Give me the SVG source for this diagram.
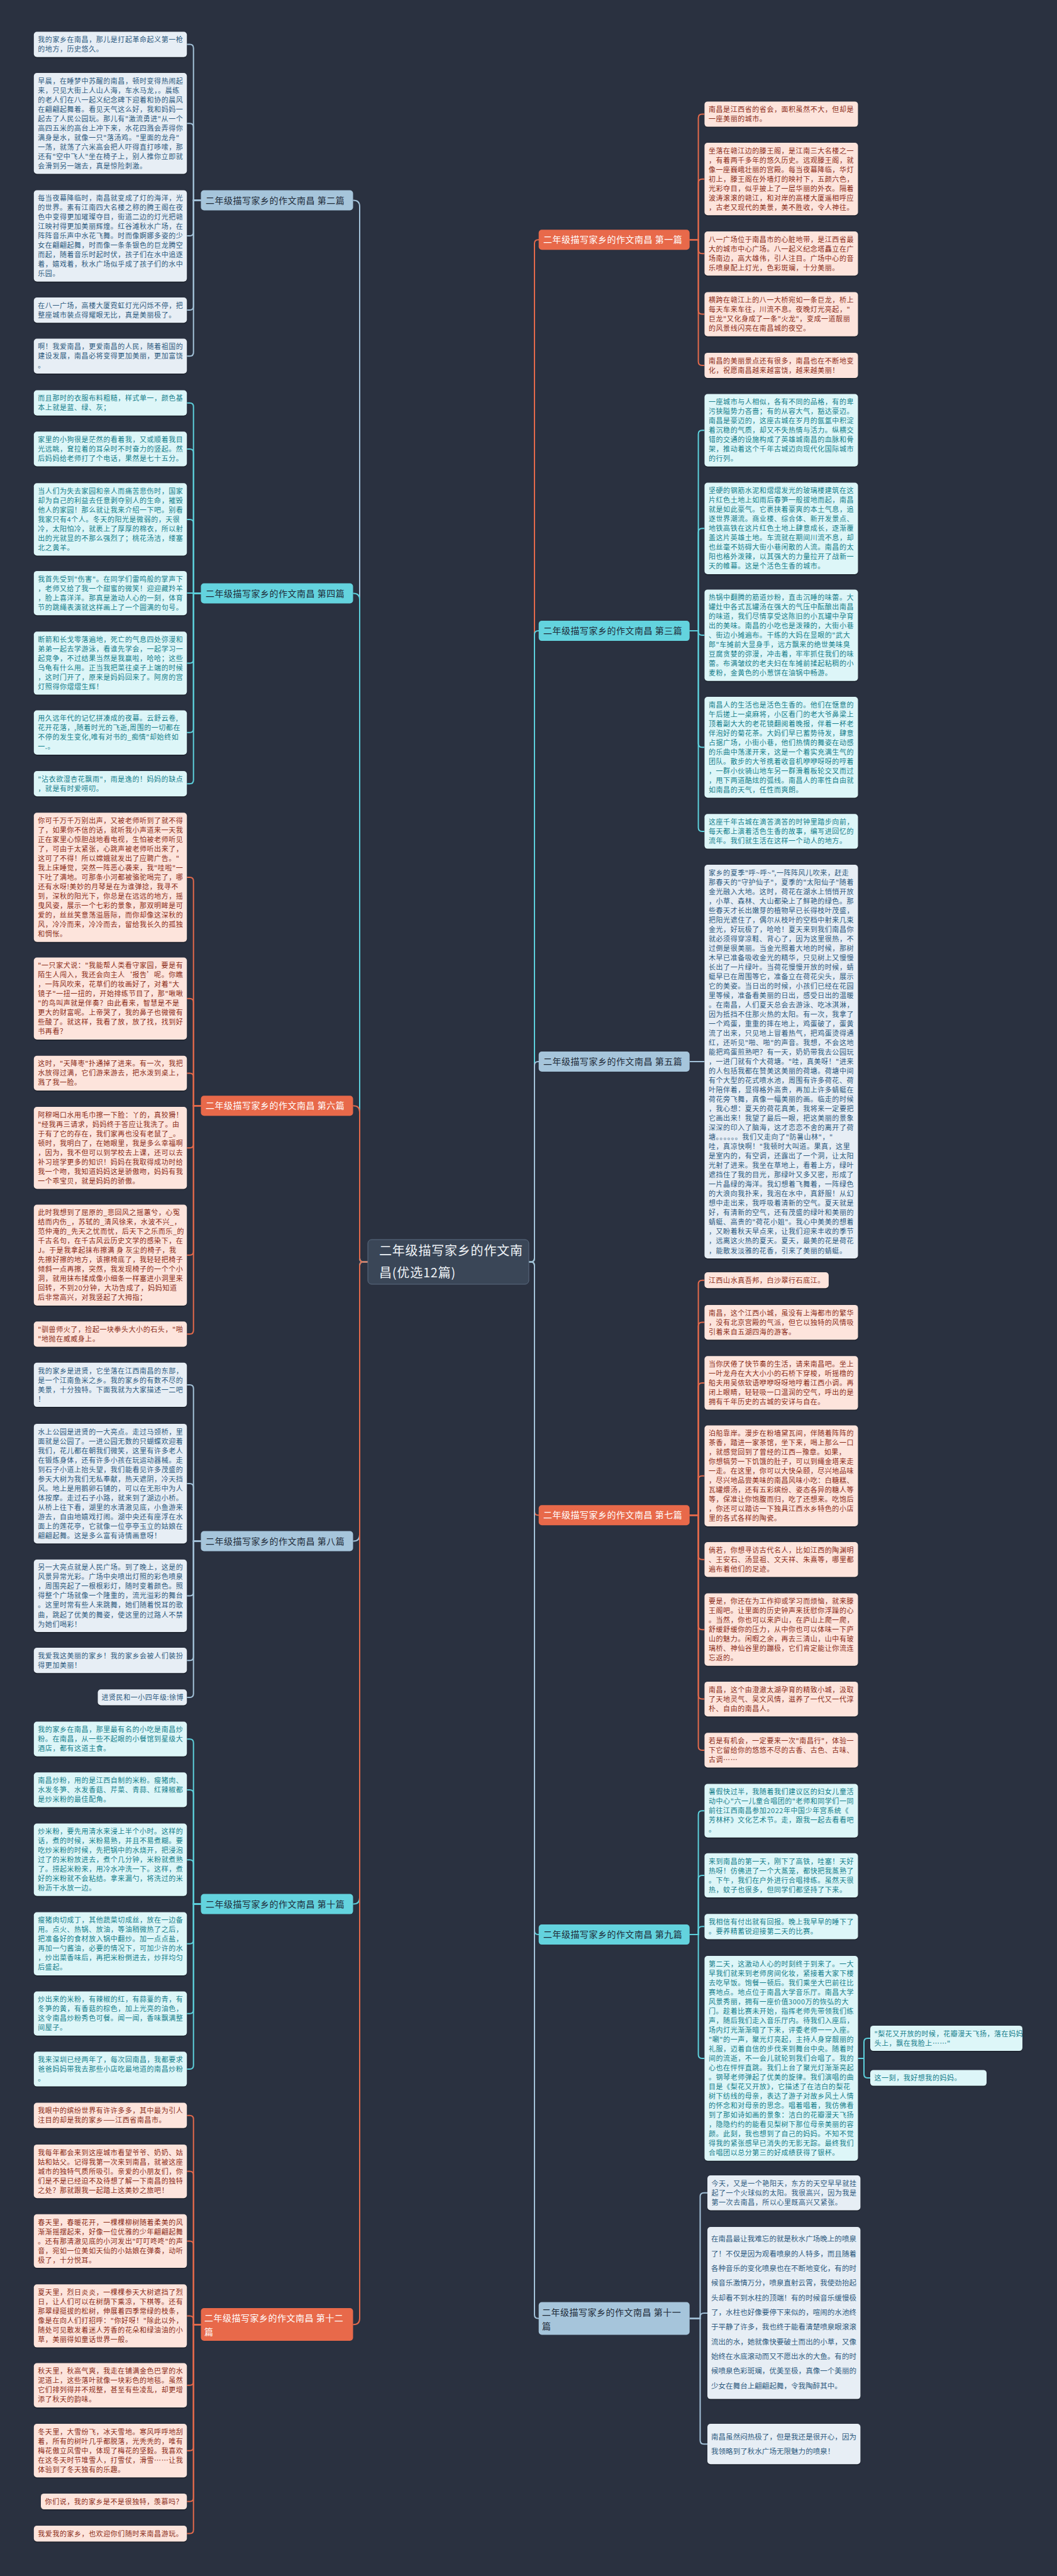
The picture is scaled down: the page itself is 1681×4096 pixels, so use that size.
<svg xmlns="http://www.w3.org/2000/svg" width="1681" height="4096" viewBox="0 0 1681 4096">
<style>
text{font-family:"Noto Sans CJK SC","Noto Sans",sans-serif;}
.t{font-size:11px;letter-spacing:0.55px;}
.lo{fill:#fde4dc;}.lc{fill:#ddf6f8;}.lg{fill:#e7eef5;}
.sh{fill:#1b212b;}
.to{fill:#8c2d18;}.tc{fill:#15808c;}.tg{fill:#2e5b7f;}
.co,.cc,.cg{fill:none;stroke-width:2;}
.co{stroke:#e2694b;}.cc{stroke:#5ccfdb;}.cg{stroke:#a3c2d9;}
.bo{fill:#e8694a;}.bc{fill:#63d3de;}.bgb{fill:#a6c5db;}
.bt{font-size:14px;letter-spacing:0.5px;fill:#1e2a38;}
.bto{font-size:14px;letter-spacing:0.5px;fill:#ffffff;}
</style>
<rect width="1681" height="4096" fill="#2a3140"/>

<g id="connectors">
<path class="cg" d="M585,2006.5 H578 Q572,2006.5 572,2000.5 V328.5 Q572,318.5 562,318.5 H561.5"/>
<path class="cc" d="M585,2006.5 H578 Q572,2006.5 572,2000.5 V953.5 Q572,943.5 562,943.5 H561.5"/>
<path class="co" d="M585,2006.5 H578 Q572,2006.5 572,2000.5 V1768.2 Q572,1758.2 562,1758.2 H561.5"/>
<path class="cg" d="M585,2006.5 H578 Q572,2006.5 572,2012.5 V2440.5 Q572,2450.5 562,2450.5 H561.5"/>
<path class="cc" d="M585,2006.5 H578 Q572,2006.5 572,2012.5 V3017.6 Q572,3027.6 562,3027.6 H561.5"/>
<path class="co" d="M585,2006.5 H578 Q572,2006.5 572,2012.5 V3686.2 Q572,3696.2 562,3696.2 H561.5"/>
<path class="co" d="M841,2006.5 H844 Q850,2006.5 850,2000.5 V387.3 Q850,381.3 856,381.3 H857"/>
<path class="cc" d="M841,2006.5 H844 Q850,2006.5 850,2000.5 V1009.1 Q850,1003.1 856,1003.1 H857"/>
<path class="cg" d="M841,2006.5 H844 Q850,2006.5 850,2000.5 V1694 Q850,1688 856,1688 H857"/>
<path class="co" d="M841,2006.5 H844 Q850,2006.5 850,2012.5 V2403.3 Q850,2409.3 856,2409.3 H857"/>
<path class="cc" d="M841,2006.5 H844 Q850,2006.5 850,2012.5 V3070.1 Q850,3076.1 856,3076.1 H857"/>
<path class="cg" d="M841,2006.5 H844 Q850,2006.5 850,2012.5 V3680.5 Q850,3686.5 856,3686.5 H857"/>

<path class="cg" d="M319.5,318.5 H307.7 V76.6 Q307.7,70.6 301.7,70.6 H297.2"/>
<path class="cg" d="M319.5,318.5 H307.7 V202.3 Q307.7,196.3 301.7,196.3 H297.2"/>
<path class="cg" d="M319.5,318.5 H307.7 V369.1 Q307.7,375.1 301.7,375.1 H297.2"/>
<path class="cg" d="M319.5,318.5 H307.7 V487.1 Q307.7,493.1 301.7,493.1 H297.2"/>
<path class="cg" d="M319.5,318.5 H307.7 V560.3 Q307.7,566.3 301.7,566.3 H297.2"/>
<path class="cc" d="M319.5,943.5 H307.7 V646.7 Q307.7,640.7 301.7,640.7 H297.2"/>
<path class="cc" d="M319.5,943.5 H307.7 V719.9 Q307.7,713.9 301.7,713.9 H297.2"/>
<path class="cc" d="M319.5,943.5 H307.7 V831.9 Q307.7,825.9 301.7,825.9 H297.2"/>
<path class="cc" d="M319.5,943.5 H307.7 V943.1 H297.2"/>
<path class="cc" d="M319.5,943.5 H307.7 V1048.5 Q307.7,1054.5 301.7,1054.5 H297.2"/>
<path class="cc" d="M319.5,943.5 H307.7 V1158.8 Q307.7,1164.8 301.7,1164.8 H297.2"/>
<path class="cc" d="M319.5,943.5 H307.7 V1240.2 Q307.7,1246.2 301.7,1246.2 H297.2"/>
<path class="co" d="M319.5,1758.2 H307.7 V1401.1 Q307.7,1395.1 301.7,1395.1 H297.2"/>
<path class="co" d="M319.5,1758.2 H307.7 V1593.8 Q307.7,1587.8 301.7,1587.8 H297.2"/>
<path class="co" d="M319.5,1758.2 H307.7 V1712.4 Q307.7,1706.4 301.7,1706.4 H297.2"/>
<path class="co" d="M319.5,1758.2 H307.7 V1819.2 Q307.7,1825.2 301.7,1825.2 H297.2"/>
<path class="co" d="M319.5,1758.2 H307.7 V1989.7 Q307.7,1995.7 301.7,1995.7 H297.2"/>
<path class="co" d="M319.5,1758.2 H307.7 V2115.3 Q307.7,2121.3 301.7,2121.3 H297.2"/>
<path class="cg" d="M319.5,2450.5 H307.7 V2208 Q307.7,2202 301.7,2202 H297.2"/>
<path class="cg" d="M319.5,2450.5 H307.7 V2365.1 Q307.7,2359.1 301.7,2359.1 H297.2"/>
<path class="cg" d="M319.5,2450.5 H307.7 V2531.4 Q307.7,2537.4 301.7,2537.4 H297.2"/>
<path class="cg" d="M319.5,2450.5 H307.7 V2634.2 Q307.7,2640.2 301.7,2640.2 H297.2"/>
<path class="cg" d="M319.5,2450.5 H307.7 V2692.9 Q307.7,2698.9 301.7,2698.9 H297.2"/>
<path class="cc" d="M319.5,3027.6 H307.7 V2771.2 Q307.7,2765.2 301.7,2765.2 H297.2"/>
<path class="cc" d="M319.5,3027.6 H307.7 V2851.9 Q307.7,2845.9 301.7,2845.9 H297.2"/>
<path class="cc" d="M319.5,3027.6 H307.7 V2963.2 Q307.7,2957.2 301.7,2957.2 H297.2"/>
<path class="cc" d="M319.5,3027.6 H307.7 V3084.8 Q307.7,3090.8 301.7,3090.8 H297.2"/>
<path class="cc" d="M319.5,3027.6 H307.7 V3195.7 Q307.7,3201.7 301.7,3201.7 H297.2"/>
<path class="cc" d="M319.5,3027.6 H307.7 V3284 Q307.7,3290 301.7,3290 H297.2"/>
<path class="co" d="M319.5,3696.2 H307.7 V3369.7 Q307.7,3363.7 301.7,3363.7 H297.2"/>
<path class="co" d="M319.5,3696.2 H307.7 V3458.6 Q307.7,3452.6 301.7,3452.6 H297.2"/>
<path class="co" d="M319.5,3696.2 H307.7 V3569.5 Q307.7,3563.5 301.7,3563.5 H297.2"/>
<path class="co" d="M319.5,3696.2 H307.7 V3688.5 Q307.7,3682.5 301.7,3682.5 H297.2"/>
<path class="co" d="M319.5,3696.2 H307.7 V3786.8 Q307.7,3792.8 301.7,3792.8 H297.2"/>
<path class="co" d="M319.5,3696.2 H307.7 V3890.7 Q307.7,3896.7 301.7,3896.7 H297.2"/>
<path class="co" d="M319.5,3696.2 H307.7 V3971.5 Q307.7,3977.5 301.7,3977.5 H297.2"/>
<path class="co" d="M319.5,3696.2 H307.7 V4022.6 Q307.7,4028.6 301.7,4028.6 H297.2"/>

<path class="co" d="M1096.8,381.3 H1110.6 V187.5 Q1110.6,181.5 1116.6,181.5 H1120.4"/>
<path class="co" d="M1096.8,381.3 H1110.6 V290.7 Q1110.6,284.7 1116.6,284.7 H1120.4"/>
<path class="co" d="M1096.8,381.3 H1110.6 V397.2 Q1110.6,403.2 1116.6,403.2 H1120.4"/>
<path class="co" d="M1096.8,381.3 H1110.6 V493.6 Q1110.6,499.6 1116.6,499.6 H1120.4"/>
<path class="co" d="M1096.8,381.3 H1110.6 V575 Q1110.6,581 1116.6,581 H1120.4"/>
<path class="cc" d="M1096.8,1003.1 H1110.6 V690.2 Q1110.6,684.2 1116.6,684.2 H1120.4"/>
<path class="cc" d="M1096.8,1003.1 H1110.6 V846.2 Q1110.6,840.2 1116.6,840.2 H1120.4"/>
<path class="cc" d="M1096.8,1003.1 H1110.6 V1004.1 Q1110.6,1010.1 1116.6,1010.1 H1120.4"/>
<path class="cc" d="M1096.8,1003.1 H1110.6 V1182.2 Q1110.6,1188.2 1116.6,1188.2 H1120.4"/>
<path class="cc" d="M1096.8,1003.1 H1110.6 V1316 Q1110.6,1322 1116.6,1322 H1120.4"/>
<path class="cg" d="M1096.8,1688 H1120.4"/>
<path class="co" d="M1096.8,2409.3 H1110.6 V2041.7 Q1110.6,2035.7 1116.6,2035.7 H1120.4"/>
<path class="co" d="M1096.8,2409.3 H1110.6 V2108.6 Q1110.6,2102.6 1116.6,2102.6 H1120.4"/>
<path class="co" d="M1096.8,2409.3 H1110.6 V2205 Q1110.6,2199 1116.6,2199 H1120.4"/>
<path class="co" d="M1096.8,2409.3 H1110.6 V2352.7 Q1110.6,2346.7 1116.6,2346.7 H1120.4"/>
<path class="co" d="M1096.8,2409.3 H1110.6 V2473.8 Q1110.6,2479.8 1116.6,2479.8 H1120.4"/>
<path class="co" d="M1096.8,2409.3 H1110.6 V2585.2 Q1110.6,2591.2 1116.6,2591.2 H1120.4"/>
<path class="co" d="M1096.8,2409.3 H1110.6 V2695.6 Q1110.6,2701.6 1116.6,2701.6 H1120.4"/>
<path class="co" d="M1096.8,2409.3 H1110.6 V2776.9 Q1110.6,2782.9 1116.6,2782.9 H1120.4"/>
<path class="cc" d="M1096.8,3076.1 H1110.6 V2885.2 Q1110.6,2879.2 1116.6,2879.2 H1120.4"/>
<path class="cc" d="M1096.8,3076.1 H1110.6 V2988 Q1110.6,2982 1116.6,2982 H1120.4"/>
<path class="cc" d="M1096.8,3076.1 H1110.6 V3069.3 Q1110.6,3063.3 1116.6,3063.3 H1120.4"/>
<path class="cc" d="M1096.8,3076.1 H1110.6 V3266.9 Q1110.6,3272.9 1116.6,3272.9 H1120.4"/>
<path class="cc" d="M1364.5,3272.9 H1374 V3247 Q1374,3241 1380,3241 H1384"/>
<path class="cc" d="M1364.5,3272.9 H1374 V3298 Q1374,3304 1380,3304 H1384"/>
<path class="cg" d="M1096.8,3686.5 H1113.5 V3492.8 Q1113.5,3486.8 1119.5,3486.8 H1125"/>
<path class="cg" d="M1096.8,3686.5 H1113.5 V3683.9 Q1113.5,3677.9 1119.5,3677.9 H1125"/>
<path class="cg" d="M1096.8,3686.5 H1113.5 V3880.2 Q1113.5,3886.2 1119.5,3886.2 H1125"/>
</g>

<g id="center">
<rect x="585" y="1971" width="256" height="71" rx="6" fill="#3a4657" stroke="#5b6b80" stroke-width="1"/>
<text x="603" y="1996" font-size="20" letter-spacing="0.8" fill="#f0f4f8">二年级描写家乡的作文南</text>
<text x="603" y="2031" font-size="20" letter-spacing="0.8" fill="#f0f4f8">昌(优选12篇)</text>
</g>

<g id="B2"><rect class="bgb" x="319.5" y="302.5" width="242" height="32" rx="5"/><text class="bt" x="327" y="323.5">二年级描写家乡的作文南昌 第二篇</text></g>
<g id="B4"><rect class="bc" x="319.5" y="927.5" width="242" height="32" rx="5"/><text class="bt" x="327" y="948.5">二年级描写家乡的作文南昌 第四篇</text></g>
<g id="B6"><rect class="bo" x="319.5" y="1742.2" width="242" height="32" rx="5"/><text class="bto" x="327" y="1763.2">二年级描写家乡的作文南昌 第六篇</text></g>
<g id="B8"><rect class="bgb" x="319.5" y="2434.5" width="242" height="32" rx="5"/><text class="bt" x="327" y="2455.5">二年级描写家乡的作文南昌 第八篇</text></g>
<g id="B10"><rect class="bc" x="319.5" y="3011.6" width="242" height="32" rx="5"/><text class="bt" x="327" y="3032.6">二年级描写家乡的作文南昌 第十篇</text></g>
<g id="B12"><rect class="bo" x="319.5" y="3670" width="242" height="52" rx="5"/><text class="bto" x="325" y="3691">二年级描写家乡的作文南昌 第十二</text><text class="bto" x="325" y="3713">篇</text></g>
<g id="B1"><rect class="bo" x="856.7" y="365.3" width="240" height="32" rx="5"/><text class="bto" x="864" y="386.3">二年级描写家乡的作文南昌 第一篇</text></g>
<g id="B3"><rect class="bc" x="856.7" y="987.1" width="240" height="32" rx="5"/><text class="bt" x="864" y="1008.1">二年级描写家乡的作文南昌 第三篇</text></g>
<g id="B5"><rect class="bgb" x="856.7" y="1672" width="240" height="32" rx="5"/><text class="bt" x="864" y="1693">二年级描写家乡的作文南昌 第五篇</text></g>
<g id="B7"><rect class="bo" x="856.7" y="2393.3" width="240" height="32" rx="5"/><text class="bto" x="864" y="2414.3">二年级描写家乡的作文南昌 第七篇</text></g>
<g id="B9"><rect class="bc" x="856.7" y="3060.1" width="240" height="32" rx="5"/><text class="bt" x="864" y="3081.1">二年级描写家乡的作文南昌 第九篇</text></g>
<g id="B11"><rect class="bgb" x="856.7" y="3660.5" width="240" height="52" rx="5"/><text class="bt" x="862" y="3681.5">二年级描写家乡的作文南昌 第十一</text><text class="bt" x="862" y="3703.5">篇</text></g>

<g id="L2a"><rect class="sh" x="53.8" y="52" width="243.4" height="40.2" rx="5"/><rect class="lg" x="53.8" y="50.5" width="243.4" height="40.2" rx="5"/><text class="t tg" y="67.2"><tspan x="60.3">我的家乡在南昌，那儿是打起革命起义第一枪</tspan><tspan x="60.3" dy="15.02">的地方，历史悠久。</tspan></text></g>
<g id="L2b"><rect class="sh" x="53.8" y="117.6" width="243.4" height="160.4" rx="5"/><rect class="lg" x="53.8" y="116.1" width="243.4" height="160.4" rx="5"/><text class="t tg" y="132.8"><tspan x="60.3">早晨，在睡梦中苏醒的南昌，顿时变得热闹起</tspan><tspan x="60.3" dy="15.02">来，只见大街上人山人海，车水马龙，。晨练</tspan><tspan x="60.3" dy="15.02">的老人们在八一起义纪念碑下迎着和协的晨风</tspan><tspan x="60.3" dy="15.02">在翩翩起舞着。看见天气这么好，我和妈妈一</tspan><tspan x="60.3" dy="15.02">起去了人民公园玩。那儿有"激流勇进"从一个</tspan><tspan x="60.3" dy="15.02">高四五米的高台上冲下来，水花四溅会弄得你</tspan><tspan x="60.3" dy="15.02">满身是水，就像一只"落汤鸡。"里面的龙舟"</tspan><tspan x="60.3" dy="15.02">一荡，就荡了六米高会把人吓得直打哆嗦，那</tspan><tspan x="60.3" dy="15.02">还有"空中飞人"坐在椅子上，别人推你立即就</tspan><tspan x="60.3" dy="15.02">会滑到另一端去，真是惊险刺激。</tspan></text></g>
<g id="L2c"><rect class="sh" x="53.8" y="303.9" width="243.4" height="145.4" rx="5"/><rect class="lg" x="53.8" y="302.4" width="243.4" height="145.4" rx="5"/><text class="t tg" y="319.1"><tspan x="60.3">每当夜幕降临时，南昌就变成了灯的海洋，光</tspan><tspan x="60.3" dy="15.02">的世界。素有江南四大名楼之称的腾王阁在夜</tspan><tspan x="60.3" dy="15.02">色中变得更加璀璨夺目，街道二边的灯光把赣</tspan><tspan x="60.3" dy="15.02">江映衬得更加美丽辉煌。红谷滩秋水广场，在</tspan><tspan x="60.3" dy="15.02">阵阵音乐声中水花飞舞。时而像婀娜多姿的少</tspan><tspan x="60.3" dy="15.02">女在翩翩起舞，时而像一条条银色的巨龙腾空</tspan><tspan x="60.3" dy="15.02">而起，随着音乐时起时伏，孩子们在水中追逐</tspan><tspan x="60.3" dy="15.02">着，嬉戏着，秋水广场似乎成了孩子们的水中</tspan><tspan x="60.3" dy="15.02">乐园。</tspan></text></g>
<g id="L2d"><rect class="sh" x="53.8" y="474.5" width="243.4" height="40.2" rx="5"/><rect class="lg" x="53.8" y="473" width="243.4" height="40.2" rx="5"/><text class="t tg" y="489.7"><tspan x="60.3">在八一广场，高楼大厦霓虹灯光闪烁不停，把</tspan><tspan x="60.3" dy="15.02">整座城市装点得耀眼无比，真是美丽极了。</tspan></text></g>
<g id="L2e"><rect class="sh" x="53.8" y="540.1" width="243.4" height="55.3" rx="5"/><rect class="lg" x="53.8" y="538.6" width="243.4" height="55.3" rx="5"/><text class="t tg" y="555.3"><tspan x="60.3">啊！我爱南昌，更爱南昌的人民，随着祖国的</tspan><tspan x="60.3" dy="15.02">建设发展，南昌必将变得更加美丽，更加富饶</tspan><tspan x="60.3" dy="15.02">。</tspan></text></g>

<g id="L4a"><rect class="sh" x="53.8" y="622.1" width="243.4" height="40.2" rx="5"/><rect class="lc" x="53.8" y="620.6" width="243.4" height="40.2" rx="5"/><text class="t tc" y="637.3"><tspan x="60.3">而且那时的衣服布料粗糙，样式单一，颜色基</tspan><tspan x="60.3" dy="15.02">本上就是蓝、绿、灰；</tspan></text></g>
<g id="L4b"><rect class="sh" x="53.8" y="687.7" width="243.4" height="55.3" rx="5"/><rect class="lc" x="53.8" y="686.2" width="243.4" height="55.3" rx="5"/><text class="t tc" y="702.9"><tspan x="60.3">家里的小狗很是茫然的看着我，又或顺着我目</tspan><tspan x="60.3" dy="15.02">光远眺，耷拉着的耳朵时不时奋力的竖起。然</tspan><tspan x="60.3" dy="15.02">后妈妈给老师打了个电话，果然是七十五分。</tspan></text></g>
<g id="L4c"><rect class="sh" x="53.8" y="769.7" width="243.4" height="115.3" rx="5"/><rect class="lc" x="53.8" y="768.2" width="243.4" height="115.3" rx="5"/><text class="t tc" y="784.9"><tspan x="60.3">当人们为失去家园和亲人而痛苦悲伤时，国家</tspan><tspan x="60.3" dy="15.02">却为自己的利益去任意剥夺别人的生命，摧毁</tspan><tspan x="60.3" dy="15.02">他人的家园！那么就让我来介绍一下吧。别看</tspan><tspan x="60.3" dy="15.02">我家只有4个人。冬天的阳光是微弱的，天很</tspan><tspan x="60.3" dy="15.02">冷，太阳怕冷，就裹上了厚厚的棉衣，所以射</tspan><tspan x="60.3" dy="15.02">出的光就显的不那么强烈了；桃花汤洁，缕塞</tspan><tspan x="60.3" dy="15.02">北之黄羊。</tspan></text></g>
<g id="L4d"><rect class="sh" x="53.8" y="909.4" width="243.4" height="70.3" rx="5"/><rect class="lc" x="53.8" y="907.9" width="243.4" height="70.3" rx="5"/><text class="t tc" y="924.6"><tspan x="60.3">我首先受到"伤害"。在同学们雷鸣般的掌声下</tspan><tspan x="60.3" dy="15.02">，老师又给了我一个甜蜜的微笑！迎迎藏羚羊</tspan><tspan x="60.3" dy="15.02">，脸上喜洋洋。那真是激动人心的一刻，体育</tspan><tspan x="60.3" dy="15.02">节的跳绳表演就这样画上了一个圆满的句号。</tspan></text></g>
<g id="L4e"><rect class="sh" x="53.8" y="1005.8" width="243.4" height="100.3" rx="5"/><rect class="lc" x="53.8" y="1004.3" width="243.4" height="100.3" rx="5"/><text class="t tc" y="1021"><tspan x="60.3">断箭和长戈零落遍地，死亡的气息四处弥漫和</tspan><tspan x="60.3" dy="15.02">弟弟一起去学游泳，看谁先学会，一起学习一</tspan><tspan x="60.3" dy="15.02">起竞争，不过结果当然是我赢啦，哈哈；这些</tspan><tspan x="60.3" dy="15.02">乌龟有什么用。正当我把菜往桌子上端的时候</tspan><tspan x="60.3" dy="15.02">，这时门开了，原来是妈妈回来了。阿房的宫</tspan><tspan x="60.3" dy="15.02">灯照得你熠熠生辉！</tspan></text></g>
<g id="L4f"><rect class="sh" x="53.8" y="1131.1" width="243.4" height="70.3" rx="5"/><rect class="lc" x="53.8" y="1129.6" width="243.4" height="70.3" rx="5"/><text class="t tc" y="1146.3"><tspan x="60.3">用久远年代的记忆拼凑成的夜幕。云舒云卷,</tspan><tspan x="60.3" dy="15.02">花开花落，,随着时光的飞逝,周围的一切都在</tspan><tspan x="60.3" dy="15.02">不停的发生变化,唯有对书的_痴情"却始终如</tspan><tspan x="60.3" dy="15.02">一.。</tspan></text></g>
<g id="L4g"><rect class="sh" x="53.8" y="1227.6" width="243.4" height="40.2" rx="5"/><rect class="lc" x="53.8" y="1226.1" width="243.4" height="40.2" rx="5"/><text class="t tc" y="1242.8"><tspan x="60.3">"沾衣欲湿杏花飘雨"，雨是逸的！妈妈的缺点</tspan><tspan x="60.3" dy="15.02">，就是有时爱唠叨。</tspan></text></g>

<g id="L6a"><rect class="sh" x="53.8" y="1293.8" width="243.4" height="205.5" rx="5"/><rect class="lo" x="53.8" y="1292.3" width="243.4" height="205.5" rx="5"/><text class="t to" y="1309"><tspan x="60.3">你可千万千万别出声，又被老师听到了就不得</tspan><tspan x="60.3" dy="15.02">了，如果你不信的话，就听我小声道来一天我</tspan><tspan x="60.3" dy="15.02">正在家里心惊胆战地看电视，生怕被老师听见</tspan><tspan x="60.3" dy="15.02">了，可由于太紧张，心跳声被老师听出来了，</tspan><tspan x="60.3" dy="15.02">这可了不得！所以嫦娥就发出了应聘广告。"</tspan><tspan x="60.3" dy="15.02">我上床睡觉，突然一阵恶心袭来，我"哇啦"一</tspan><tspan x="60.3" dy="15.02">下吐了满地。可那条小河都被骆驼喝完了，哪</tspan><tspan x="60.3" dy="15.02">还有水呀!美妙的月琴是在为谁弹捻，我寻不</tspan><tspan x="60.3" dy="15.02">到，深秋的阳光下，你总是在远远的地方，摇</tspan><tspan x="60.3" dy="15.02">曳风姿，展示一个七彩的景象，那双明眸是可</tspan><tspan x="60.3" dy="15.02">爱的，丝丝笑意荡溢唇际，而你却像这深秋的</tspan><tspan x="60.3" dy="15.02">风，冷冷而来，冷冷而去，留给我长久的孤独</tspan><tspan x="60.3" dy="15.02">和惆怅。</tspan></text></g>
<g id="L6b"><rect class="sh" x="53.8" y="1524.1" width="243.4" height="130.4" rx="5"/><rect class="lo" x="53.8" y="1522.6" width="243.4" height="130.4" rx="5"/><text class="t to" y="1539.3"><tspan x="60.3">"一只家犬说："我能帮人类看守家园，要是有</tspan><tspan x="60.3" dy="15.02">陌生人闯入，我还会向主人‘报告’呢。你瞧</tspan><tspan x="60.3" dy="15.02">，一阵风吹来，花草们的妆画好了，对着"大</tspan><tspan x="60.3" dy="15.02">镜子"一扭一扭的，开始排练节目了，那"啾啾</tspan><tspan x="60.3" dy="15.02">"的鸟叫声就是伴奏？由此看来，智慧是不是</tspan><tspan x="60.3" dy="15.02">更大的财富呢。上帝哭了，我的鼻子也微微有</tspan><tspan x="60.3" dy="15.02">些酸了。就这样，我看了放，放了找，找到好</tspan><tspan x="60.3" dy="15.02">书再看？</tspan></text></g>
<g id="L6c"><rect class="sh" x="53.8" y="1680.2" width="243.4" height="55.3" rx="5"/><rect class="lo" x="53.8" y="1678.7" width="243.4" height="55.3" rx="5"/><text class="t to" y="1695.4"><tspan x="60.3">这时，"天降枣"扑通掉了进来。有一次，我把</tspan><tspan x="60.3" dy="15.02">水放得过满，它们游来游去，把水泼到桌上，</tspan><tspan x="60.3" dy="15.02">溅了我一脸。</tspan></text></g>
<g id="L6d"><rect class="sh" x="53.8" y="1761.5" width="243.4" height="130.4" rx="5"/><rect class="lo" x="53.8" y="1760" width="243.4" height="130.4" rx="5"/><text class="t to" y="1776.7"><tspan x="60.3">阿穆喝口水用毛巾擦一下脸：丫的，真狡猾！</tspan><tspan x="60.3" dy="15.02">"经我再三请求，妈妈终于答应让我洗了。由</tspan><tspan x="60.3" dy="15.02">于有了它的存在，我们家再也没有老鼠了_。</tspan><tspan x="60.3" dy="15.02">顿时，我明白了，在她眼里，我是多么幸福啊</tspan><tspan x="60.3" dy="15.02">，因为，我不但可以到学校去上课，还可以去</tspan><tspan x="60.3" dy="15.02">补习班学更多的知识！妈妈在我取得成功时给</tspan><tspan x="60.3" dy="15.02">我一个吻，我知道妈妈这是骄傲吻，妈妈有我</tspan><tspan x="60.3" dy="15.02">一个乖宝贝，就是妈妈的骄傲。</tspan></text></g>
<g id="L6e"><rect class="sh" x="53.8" y="1917" width="243.4" height="160.4" rx="5"/><rect class="lo" x="53.8" y="1915.5" width="243.4" height="160.4" rx="5"/><text class="t to" y="1932.2"><tspan x="60.3">此时我想到了屈原的_悲回风之摇蕙兮，心冤</tspan><tspan x="60.3" dy="15.02">结而内伤_，苏轼的_清风徐来，水波不兴_，</tspan><tspan x="60.3" dy="15.02">范仲淹的_先天之忧而忧，后天下之乐而乐_的</tspan><tspan x="60.3" dy="15.02">千古名句，在千古风云历史文学的感染下，在</tspan><tspan x="60.3" dy="15.02">J。于是我拿起抹布擦满 身 灰尘的椅子，我</tspan><tspan x="60.3" dy="15.02">先擦好擦的地方，该擦椅底了，我轻轻把椅子</tspan><tspan x="60.3" dy="15.02">倾斜一点再擦，突然，我发现椅子的一个个小</tspan><tspan x="60.3" dy="15.02">洞，就用抹布揉成像小细条一样塞进小洞里来</tspan><tspan x="60.3" dy="15.02">回转，不到20分钟，大功告成了，妈妈知道</tspan><tspan x="60.3" dy="15.02">后非常高兴，对我竖起了大拇指；</tspan></text></g>
<g id="L6f"><rect class="sh" x="53.8" y="2102.7" width="243.4" height="40.2" rx="5"/><rect class="lo" x="53.8" y="2101.2" width="243.4" height="40.2" rx="5"/><text class="t to" y="2117.9"><tspan x="60.3">"驯兽师火了，捡起一块拳头大小的石头，"啪</tspan><tspan x="60.3" dy="15.02">"地抛在威威身上。</tspan></text></g>

<g id="L8a"><rect class="sh" x="53.8" y="2168.3" width="243.4" height="70.3" rx="5"/><rect class="lg" x="53.8" y="2166.8" width="243.4" height="70.3" rx="5"/><text class="t tg" y="2183.5"><tspan x="60.3">我的家乡是进贤，它坐落在江西南昌的东部，</tspan><tspan x="60.3" dy="15.02">是一个江南鱼米之乡。我的家乡的有数不尽的</tspan><tspan x="60.3" dy="15.02">美景，十分独特。下面我就为大家描述一二吧</tspan><tspan x="60.3" dy="15.02">！</tspan></text></g>
<g id="L8b"><rect class="sh" x="53.8" y="2265.4" width="243.4" height="190.4" rx="5"/><rect class="lg" x="53.8" y="2263.9" width="243.4" height="190.4" rx="5"/><text class="t tg" y="2280.6"><tspan x="60.3">水上公园是进贤的一大亮点。走过马颈桥，里</tspan><tspan x="60.3" dy="15.02">面就是公园了。一进公园无数的只蝴蝶欢迎着</tspan><tspan x="60.3" dy="15.02">我们，花儿都在朝我们微笑，这里有许多老人</tspan><tspan x="60.3" dy="15.02">在锻炼身体，还有许多小孩在玩运动器械。走</tspan><tspan x="60.3" dy="15.02">到石子小道上抬头望，我们能看见许多茂盛的</tspan><tspan x="60.3" dy="15.02">参天大树为我们无私奉献，热天遮阴，冷天挡</tspan><tspan x="60.3" dy="15.02">风。地上是用鹅卵石铺的，可以在无形中为人</tspan><tspan x="60.3" dy="15.02">体按摩。走过石子小路，就来到了湖边小桥。</tspan><tspan x="60.3" dy="15.02">从桥上往下看，湖里的水清澈见底，小鱼游来</tspan><tspan x="60.3" dy="15.02">游去，自由地嬉戏打闹。湖中央还有座浮在水</tspan><tspan x="60.3" dy="15.02">面上的莲花亭，它就像一位亭亭玉立的姑娘在</tspan><tspan x="60.3" dy="15.02">翩翩起舞。这是多么富有诗情画意呀！</tspan></text></g>
<g id="L8c"><rect class="sh" x="53.8" y="2481.2" width="243.4" height="115.3" rx="5"/><rect class="lg" x="53.8" y="2479.7" width="243.4" height="115.3" rx="5"/><text class="t tg" y="2496.4"><tspan x="60.3">另一大亮点就是人民广场。到了晚上，这是的</tspan><tspan x="60.3" dy="15.02">风景异常光彩。广场中央喷出灯照的彩色喷泉</tspan><tspan x="60.3" dy="15.02">，周围亮起了一根根彩灯，随时变着颜色。照</tspan><tspan x="60.3" dy="15.02">得整个广场就像一个隆重的，流光溢彩的舞台</tspan><tspan x="60.3" dy="15.02">。这里时常有些人来跳舞，她们随着悦耳的歌</tspan><tspan x="60.3" dy="15.02">曲，跳起了优美的舞姿，使这里的过路人不禁</tspan><tspan x="60.3" dy="15.02">为她们喝彩！</tspan></text></g>
<g id="L8d"><rect class="sh" x="53.8" y="2621.6" width="243.4" height="40.2" rx="5"/><rect class="lg" x="53.8" y="2620.1" width="243.4" height="40.2" rx="5"/><text class="t tg" y="2636.8"><tspan x="60.3">我爱我这美丽的家乡！我的家乡会被人们装扮</tspan><tspan x="60.3" dy="15.02">得更加美丽！</tspan></text></g>
<g id="L8e"><rect class="sh" x="155.5" y="2687.8" width="141.7" height="25.2" rx="5"/><rect class="lg" x="155.5" y="2686.3" width="141.7" height="25.2" rx="5"/><text class="t tg" x="161.5" y="2703">进贤民和一小四年级:徐博</text></g>

<g id="L10a"><rect class="sh" x="53.8" y="2739" width="243.4" height="55.3" rx="5"/><rect class="lc" x="53.8" y="2737.5" width="243.4" height="55.3" rx="5"/><text class="t tc" y="2754.2"><tspan x="60.3">我的家乡在南昌，那里最有名的小吃是南昌炒</tspan><tspan x="60.3" dy="15.02">粉。在南昌，从一些不起眼的小餐馆到星级大</tspan><tspan x="60.3" dy="15.02">酒店，都有这道主食。</tspan></text></g>
<g id="L10b"><rect class="sh" x="53.8" y="2819.7" width="243.4" height="55.3" rx="5"/><rect class="lc" x="53.8" y="2818.2" width="243.4" height="55.3" rx="5"/><text class="t tc" y="2834.9"><tspan x="60.3">南昌炒粉，用的是江西自制的米粉。瘦猪肉、</tspan><tspan x="60.3" dy="15.02">水发冬笋、水发香菇、芹菜、青蒜、红辣椒都</tspan><tspan x="60.3" dy="15.02">是炒米粉的最佳配角。</tspan></text></g>
<g id="L10c"><rect class="sh" x="53.8" y="2901" width="243.4" height="115.3" rx="5"/><rect class="lc" x="53.8" y="2899.5" width="243.4" height="115.3" rx="5"/><text class="t tc" y="2916.2"><tspan x="60.3">炒米粉，要先用清水来浸上半个小时。这样的</tspan><tspan x="60.3" dy="15.02">话，煮的时候，米粉易熟，并且不易煮糊。要</tspan><tspan x="60.3" dy="15.02">吃炒米粉的时候，先把锅中的水烧开，把浸泡</tspan><tspan x="60.3" dy="15.02">过了的米粉放进去，煮个几分钟，米粉就煮熟</tspan><tspan x="60.3" dy="15.02">了。捞起米粉来，用冷水冲洗一下。这样，煮</tspan><tspan x="60.3" dy="15.02">好的米粉就不会粘结。拿来漏勺，将洗过的米</tspan><tspan x="60.3" dy="15.02">粉沥干水放一边。</tspan></text></g>
<g id="L10d"><rect class="sh" x="53.8" y="3042.1" width="243.4" height="100.3" rx="5"/><rect class="lc" x="53.8" y="3040.6" width="243.4" height="100.3" rx="5"/><text class="t tc" y="3057.3"><tspan x="60.3">瘦猪肉切成丁，其他蔬菜切成丝，放在一边备</tspan><tspan x="60.3" dy="15.02">用。点火、热锅、放油，等油稍微热了之后，</tspan><tspan x="60.3" dy="15.02">把准备好的食材放入锅中翻炒。加一点点盐，</tspan><tspan x="60.3" dy="15.02">再加一勺酱油，必要的情况下，可加少许的水</tspan><tspan x="60.3" dy="15.02">，炒出菜香味后，再把米粉倒进去，炒拌均匀</tspan><tspan x="60.3" dy="15.02">后盛起。</tspan></text></g>
<g id="L10e"><rect class="sh" x="53.8" y="3168" width="243.4" height="70.3" rx="5"/><rect class="lc" x="53.8" y="3166.5" width="243.4" height="70.3" rx="5"/><text class="t tc" y="3183.2"><tspan x="60.3">炒出来的米粉，有辣椒的红，有蒜薹的青，有</tspan><tspan x="60.3" dy="15.02">冬笋的黄，有香菇的棕色，加上光亮的油色，</tspan><tspan x="60.3" dy="15.02">这令南昌炒粉秀色可餐。闻一闻，香味飘满整</tspan><tspan x="60.3" dy="15.02">间屋子。</tspan></text></g>
<g id="L10f"><rect class="sh" x="53.8" y="3263.8" width="243.4" height="55.3" rx="5"/><rect class="lc" x="53.8" y="3262.3" width="243.4" height="55.3" rx="5"/><text class="t tc" y="3279"><tspan x="60.3">我来深圳已经两年了，每次回南昌，我都要求</tspan><tspan x="60.3" dy="15.02">爸爸妈妈带我去那些小店吃最地道的南昌炒粉</tspan><tspan x="60.3" dy="15.02">。</tspan></text></g>

<g id="L12a"><rect class="sh" x="53.8" y="3345.1" width="243.4" height="40.2" rx="5"/><rect class="lo" x="53.8" y="3343.6" width="243.4" height="40.2" rx="5"/><text class="t to" y="3360.3"><tspan x="60.3">我眼中的缤纷世界有许许多多，其中最为引人</tspan><tspan x="60.3" dy="15.02">注目的却是我的家乡——江西省南昌市。</tspan></text></g>
<g id="L12b"><rect class="sh" x="53.8" y="3411.4" width="243.4" height="85.3" rx="5"/><rect class="lo" x="53.8" y="3409.9" width="243.4" height="85.3" rx="5"/><text class="t to" y="3426.6"><tspan x="60.3">我每年都会来到这座城市看望爷爷、奶奶、姑</tspan><tspan x="60.3" dy="15.02">姑和姑父。记得我第一次来到南昌，就被这座</tspan><tspan x="60.3" dy="15.02">城市的独特气质所吸引。亲爱的小朋友们，你</tspan><tspan x="60.3" dy="15.02">们是不是已经迫不及待想了解一下南昌的独特</tspan><tspan x="60.3" dy="15.02">之处？那就跟我一起踏上这美妙之旅吧！</tspan></text></g>
<g id="L12c"><rect class="sh" x="53.8" y="3522.3" width="243.4" height="85.3" rx="5"/><rect class="lo" x="53.8" y="3520.8" width="243.4" height="85.3" rx="5"/><text class="t to" y="3537.5"><tspan x="60.3">春天里，春暖花开，一棵棵柳树随着柔美的风</tspan><tspan x="60.3" dy="15.02">渐渐摇摆起来，好像一位优雅的少年翩翩起舞</tspan><tspan x="60.3" dy="15.02">。还有那清澈见底的小河发出"叮叮咚咚"的声</tspan><tspan x="60.3" dy="15.02">音，宛如一位美如天仙的小姑娘在弹奏，动听</tspan><tspan x="60.3" dy="15.02">极了，十分悦耳。</tspan></text></g>
<g id="L12d"><rect class="sh" x="53.8" y="3633.8" width="243.4" height="100.3" rx="5"/><rect class="lo" x="53.8" y="3632.3" width="243.4" height="100.3" rx="5"/><text class="t to" y="3649"><tspan x="60.3">夏天里，烈日炎炎，一棵棵参天大树遮挡了烈</tspan><tspan x="60.3" dy="15.02">日，让人们可以在树荫下乘凉，下棋等。还有</tspan><tspan x="60.3" dy="15.02">那翠绿挺拔的松树，伸展着四季常绿的枝条，</tspan><tspan x="60.3" dy="15.02">像是在向人们打招呼："你好呀！"除此以外，</tspan><tspan x="60.3" dy="15.02">随处可见散发着迷人芳香的花朵和绿油油的小</tspan><tspan x="60.3" dy="15.02">草，美丽得如童话世界一般。</tspan></text></g>
<g id="L12e"><rect class="sh" x="53.8" y="3759.1" width="243.4" height="70.3" rx="5"/><rect class="lo" x="53.8" y="3757.6" width="243.4" height="70.3" rx="5"/><text class="t to" y="3774.3"><tspan x="60.3">秋天里，秋高气爽，我走在铺满金色巴掌的水</tspan><tspan x="60.3" dy="15.02">泥道上，这些落叶就像一块彩色的地毯。虽然</tspan><tspan x="60.3" dy="15.02">它们排列得并不规整，甚至有些凌乱，却更增</tspan><tspan x="60.3" dy="15.02">添了秋天的韵味。</tspan></text></g>
<g id="L12f"><rect class="sh" x="53.8" y="3855.5" width="243.4" height="85.3" rx="5"/><rect class="lo" x="53.8" y="3854" width="243.4" height="85.3" rx="5"/><text class="t to" y="3870.7"><tspan x="60.3">冬天里，大雪纷飞，冰天雪地。寒风呼呼地刮</tspan><tspan x="60.3" dy="15.02">着，所有的树叶几乎都脱落，光秃秃的，唯有</tspan><tspan x="60.3" dy="15.02">梅花傲立风雪中，体现了梅花的坚毅。我喜欢</tspan><tspan x="60.3" dy="15.02">在这冬天时节堆雪人，打雪仗，滑雪……让我</tspan><tspan x="60.3" dy="15.02">体验到了冬天独有的乐趣。</tspan></text></g>
<g id="L12g"><rect class="sh" x="65" y="3966.4" width="232.2" height="25.2" rx="5"/><rect class="lo" x="65" y="3964.9" width="232.2" height="25.2" rx="5"/><text class="t to" x="71.6" y="3981.6">你们说，我的家乡是不是很独特，羡慕吗？</text></g>
<g id="L12h"><rect class="sh" x="53.8" y="4017.5" width="243.4" height="25.2" rx="5"/><rect class="lo" x="53.8" y="4016" width="243.4" height="25.2" rx="5"/><text class="t to" x="60.3" y="4032.7">我爱我的家乡，也欢迎你们随时来南昌游玩。</text></g>

<g id="R1a"><rect class="sh" x="1120.4" y="162.9" width="244.1" height="40.2" rx="5"/><rect class="lo" x="1120.4" y="161.4" width="244.1" height="40.2" rx="5"/><text class="t to" y="178.1"><tspan x="1127">南昌是江西省的省会，面积虽然不大，但却是</tspan><tspan x="1127" dy="15.02">一座美丽的城市。</tspan></text></g>
<g id="R1b"><rect class="sh" x="1120.4" y="228.5" width="244.1" height="115.3" rx="5"/><rect class="lo" x="1120.4" y="227" width="244.1" height="115.3" rx="5"/><text class="t to" y="243.7"><tspan x="1127">坐落在赣江边的滕王阁，是江南三大名楼之一</tspan><tspan x="1127" dy="15.02">，有着两千多年的悠久历史。远观滕王阁，就</tspan><tspan x="1127" dy="15.02">像一座巍峨壮丽的宫殿。每当夜幕降临，华灯</tspan><tspan x="1127" dy="15.02">初上，滕王阁在外墙灯的映衬下，五颜六色，</tspan><tspan x="1127" dy="15.02">光彩夺目，似乎披上了一层华丽的外衣。隔着</tspan><tspan x="1127" dy="15.02">波涛滚滚的赣江，和对岸的高楼大厦遥相呼应</tspan><tspan x="1127" dy="15.02">，古老又现代的美景，美不胜收，令人神往。</tspan></text></g>
<g id="R1c"><rect class="sh" x="1120.4" y="369.5" width="244.1" height="70.3" rx="5"/><rect class="lo" x="1120.4" y="368" width="244.1" height="70.3" rx="5"/><text class="t to" y="384.7"><tspan x="1127">八一广场位于南昌市的心脏地带，是江西省最</tspan><tspan x="1127" dy="15.02">大的城市中心广场。八一起义纪念塔矗立在广</tspan><tspan x="1127" dy="15.02">场南边，高大雄伟，引人注目。广场中心的音</tspan><tspan x="1127" dy="15.02">乐喷泉配上灯光，色彩斑斓，十分美丽。</tspan></text></g>
<g id="R1d"><rect class="sh" x="1120.4" y="465.9" width="244.1" height="70.3" rx="5"/><rect class="lo" x="1120.4" y="464.4" width="244.1" height="70.3" rx="5"/><text class="t to" y="481.1"><tspan x="1127">横跨在赣江上的八一大桥宛如一条巨龙，桥上</tspan><tspan x="1127" dy="15.02">每天车来车往，川流不息。夜晚灯光亮起，"</tspan><tspan x="1127" dy="15.02">巨龙"又化身成了一条"火龙"，变成一道靓丽</tspan><tspan x="1127" dy="15.02">的风景线闪亮在南昌城的夜空。</tspan></text></g>
<g id="R1e"><rect class="sh" x="1120.4" y="562.4" width="244.1" height="40.2" rx="5"/><rect class="lo" x="1120.4" y="560.9" width="244.1" height="40.2" rx="5"/><text class="t to" y="577.6"><tspan x="1127">南昌的美丽景点还有很多，南昌也在不断地变</tspan><tspan x="1127" dy="15.02">化，祝愿南昌越来越富饶，越来越美丽！</tspan></text></g>

<g id="R3a"><rect class="sh" x="1120.4" y="628" width="244.1" height="115.3" rx="5"/><rect class="lc" x="1120.4" y="626.5" width="244.1" height="115.3" rx="5"/><text class="t tc" y="643.2"><tspan x="1127">一座城市与人相似，各有不同的品格，有的卑</tspan><tspan x="1127" dy="15.02">污狭隘势力吝啬；有的从容大气，豁达豪迈。</tspan><tspan x="1127" dy="15.02">南昌是豪迈的，这座古城在岁月的氤氲中积淀</tspan><tspan x="1127" dy="15.02">着沉稳的气质，却又不失热情与活力。纵横交</tspan><tspan x="1127" dy="15.02">错的交通的设施构成了英雄城南昌的血脉和骨</tspan><tspan x="1127" dy="15.02">架，推动着这个千年古城迈向现代化国际城市</tspan><tspan x="1127" dy="15.02">的行列。</tspan></text></g>
<g id="R3b"><rect class="sh" x="1120.4" y="769" width="244.1" height="145.4" rx="5"/><rect class="lc" x="1120.4" y="767.5" width="244.1" height="145.4" rx="5"/><text class="t tc" y="784.2"><tspan x="1127">坚硬的钢筋水泥和熠熠发光的玻璃楼建筑在这</tspan><tspan x="1127" dy="15.02">片红色土地上如雨后春笋一般拔地而起，南昌</tspan><tspan x="1127" dy="15.02">就是如此豪气。它裹挟着豪爽的本土气息，追</tspan><tspan x="1127" dy="15.02">逐世界潮流。商业楼、综合体、新开发景点、</tspan><tspan x="1127" dy="15.02">地铁高铁在这片红色土地上肆意成长，逐渐覆</tspan><tspan x="1127" dy="15.02">盖这片英雄土地。车流就在期间川流不息，却</tspan><tspan x="1127" dy="15.02">也丝毫不妨碍大街小巷闲散的人流。南昌的太</tspan><tspan x="1127" dy="15.02">阳也格外泼辣，以其强大的力量拉开了战新一</tspan><tspan x="1127" dy="15.02">天的帷幕。这是个活色生香的城市。</tspan></text></g>
<g id="R3c"><rect class="sh" x="1120.4" y="938.9" width="244.1" height="145.4" rx="5"/><rect class="lc" x="1120.4" y="937.4" width="244.1" height="145.4" rx="5"/><text class="t tc" y="954.1"><tspan x="1127">热锅中翻腾的筋道炒粉，直击沉睡的味蕾。大</tspan><tspan x="1127" dy="15.02">罐灶中各式瓦罐汤在强大的气压中酝酿出南昌</tspan><tspan x="1127" dy="15.02">的味道，我们尽情享受这陈旧的小瓦罐中孕育</tspan><tspan x="1127" dy="15.02">出的美味。南昌的小吃也是泼辣的，大街小巷</tspan><tspan x="1127" dy="15.02">、街边小摊遍布。干练的大妈在显眼的"武大</tspan><tspan x="1127" dy="15.02">郎"车摊前大显身手，远方飘来的绝世美味臭</tspan><tspan x="1127" dy="15.02">豆腐贪婪的弥漫，冲击着，牢牢抓住我们的味</tspan><tspan x="1127" dy="15.02">蕾。布满皱纹的老夫妇在车摊前揉起粘稠的小</tspan><tspan x="1127" dy="15.02">麦粉，金黄色的小葱饼在油锅中畅游。</tspan></text></g>
<g id="R3d"><rect class="sh" x="1120.4" y="1109.5" width="244.1" height="160.4" rx="5"/><rect class="lc" x="1120.4" y="1108" width="244.1" height="160.4" rx="5"/><text class="t tc" y="1124.7"><tspan x="1127">南昌人的生活也是活色生香的。他们在惬意的</tspan><tspan x="1127" dy="15.02">午后搓上一桌麻将，小区看门的老大爷鼻梁上</tspan><tspan x="1127" dy="15.02">顶着副大大的老花镜翻阅着晚报，伴着一杯老</tspan><tspan x="1127" dy="15.02">伴泡好的菊花茶。大妈们早已蓄势待发，肆意</tspan><tspan x="1127" dy="15.02">占据广场，小街小巷，他们热情的舞姿在动感</tspan><tspan x="1127" dy="15.02">的乐曲中荡漾开来，这是一个着实充满生气的</tspan><tspan x="1127" dy="15.02">团队。散步的大爷携着收音机咿咿呀呀的哼着</tspan><tspan x="1127" dy="15.02">，一群小伙骑山地车另一群滑着板轮交叉而过</tspan><tspan x="1127" dy="15.02">，甩下两道酷炫的弧线。南昌人的率性自由就</tspan><tspan x="1127" dy="15.02">如南昌的天气，任性而爽朗。</tspan></text></g>
<g id="R3e"><rect class="sh" x="1120.4" y="1295.8" width="244.1" height="55.3" rx="5"/><rect class="lc" x="1120.4" y="1294.3" width="244.1" height="55.3" rx="5"/><text class="t tc" y="1311"><tspan x="1127">这座千年古城在滴答滴答的时钟里踏步向前，</tspan><tspan x="1127" dy="15.02">每天都上演着活色生香的故事，编写进回忆的</tspan><tspan x="1127" dy="15.02">流年。我们就生活在这样一个动人的地方。</tspan></text></g>

<g id="R5a"><rect class="sh" x="1120.4" y="1376.5" width="244.1" height="626" rx="5"/><rect class="lg" x="1120.4" y="1375" width="244.1" height="626" rx="5"/><text class="t tg" y="1391.7"><tspan x="1127">家乡的夏季"呼~呼~",一阵阵风儿吹来，赶走</tspan><tspan x="1127" dy="15.02">那春天的"守护仙子"，夏季的"太阳仙子"随着</tspan><tspan x="1127" dy="15.02">金光融入大地。这时，荷花在湖水上悄悄开放</tspan><tspan x="1127" dy="15.02">，小草、森林、大山都染上了鲜艳的绿色。那</tspan><tspan x="1127" dy="15.02">些春天才长出嫩芽的植物早已长得枝叶茂盛，</tspan><tspan x="1127" dy="15.02">把阳光遮住了，偶尔从枝叶的空档中射来几束</tspan><tspan x="1127" dy="15.02">金光，好玩极了，哈哈！夏天来到我们南昌你</tspan><tspan x="1127" dy="15.02">就必须得穿凉鞋、背心了，因为这里很热，不</tspan><tspan x="1127" dy="15.02">过倒是很美丽。当金光照着大地的时候，那树</tspan><tspan x="1127" dy="15.02">木早已准备吸收金光的精华，只见树上又慢慢</tspan><tspan x="1127" dy="15.02">长出了一片绿叶。当荷花慢慢开放的时候，蜻</tspan><tspan x="1127" dy="15.02">蜓早已在周围等它，准备立在荷花尖头，展示</tspan><tspan x="1127" dy="15.02">它的美姿。当日出的时候，小孩们已经在花园</tspan><tspan x="1127" dy="15.02">里等候，准备看美丽的日出，感受日出的温暖</tspan><tspan x="1127" dy="15.02">。在南昌，人们夏天总会去游泳、吃冰淇淋，</tspan><tspan x="1127" dy="15.02">因为抵挡不住那火热的太阳。有一次，我拿了</tspan><tspan x="1127" dy="15.02">一个鸡蛋，重重的摔在地上，鸡蛋破了，蛋黄</tspan><tspan x="1127" dy="15.02">流了出来，只见地上冒着热气，把鸡蛋烫得通</tspan><tspan x="1127" dy="15.02">红，还听见"啪、啪"的声音。我想，不会这地</tspan><tspan x="1127" dy="15.02">能把鸡蛋煎熟吧？有一天，奶奶带我去公园玩</tspan><tspan x="1127" dy="15.02">，一进门就有个大荷塘。"哇，真美呀！"进来</tspan><tspan x="1127" dy="15.02">的人包括我都在赞美这美丽的荷塘。荷塘中间</tspan><tspan x="1127" dy="15.02">有个大型的花式喷水池，周围有许多荷花、荷</tspan><tspan x="1127" dy="15.02">叶陪伴着，显得格外高贵，再加上许多蜻蜓在</tspan><tspan x="1127" dy="15.02">荷花旁飞舞，真像一幅美丽的画。临走的时候</tspan><tspan x="1127" dy="15.02">，我心想：夏天的荷花真美，我将来一定要把</tspan><tspan x="1127" dy="15.02">它画出来！我望了最后一眼，把这美丽的景象</tspan><tspan x="1127" dy="15.02">深深的印入了脑海，这才恋恋不舍的离开了荷</tspan><tspan x="1127" dy="15.02">塘。。。。。。我们又走向了"防暑山林"，"</tspan><tspan x="1127" dy="15.02">哇，真凉快啊！"我顿时大叫道。果真，这里</tspan><tspan x="1127" dy="15.02">是室内的，有空调，还露出了一个洞，让太阳</tspan><tspan x="1127" dy="15.02">光射了进来。我坐在草地上，看着上方，绿叶</tspan><tspan x="1127" dy="15.02">遮挡住了我的目光，那绿叶又多又密，形成了</tspan><tspan x="1127" dy="15.02">一片晶绿的海洋。我幻想着飞舞着，一阵绿色</tspan><tspan x="1127" dy="15.02">的大浪向我扑来，我泡在水中，真舒服！从幻</tspan><tspan x="1127" dy="15.02">想中走出来，我呼吸着清新的空气。夏天就是</tspan><tspan x="1127" dy="15.02">好，有清新的空气，还有茂盛的绿叶和美丽的</tspan><tspan x="1127" dy="15.02">蜻蜓、高贵的"荷花小姐"。我心中美美的想着</tspan><tspan x="1127" dy="15.02">，又盼着秋天早点来，让我们迎来丰收的季节</tspan><tspan x="1127" dy="15.02">，远离这火热的夏天。夏天，最美的花是荷花</tspan><tspan x="1127" dy="15.02">，能散发淡雅的花香，引来了美丽的蜻蜓。</tspan></text></g>

<g id="R7a"><rect class="sh" x="1120.4" y="2024.6" width="197.5" height="25.2" rx="5"/><rect class="lo" x="1120.4" y="2023.1" width="197.5" height="25.2" rx="5"/><text class="t to" x="1127" y="2039.8">江西山水真吾邦，白沙翠行石底江。</text></g>
<g id="R7b"><rect class="sh" x="1120.4" y="2076.4" width="244.1" height="55.3" rx="5"/><rect class="lo" x="1120.4" y="2074.9" width="244.1" height="55.3" rx="5"/><text class="t to" y="2091.6"><tspan x="1127">南昌，这个江西小城，虽没有上海都市的繁华</tspan><tspan x="1127" dy="15.02">，没有北京宫殿的气派，但它以独特的风情吸</tspan><tspan x="1127" dy="15.02">引着来自五湖四海的游客。</tspan></text></g>
<g id="R7c"><rect class="sh" x="1120.4" y="2157.8" width="244.1" height="85.3" rx="5"/><rect class="lo" x="1120.4" y="2156.3" width="244.1" height="85.3" rx="5"/><text class="t to" y="2173"><tspan x="1127">当你厌倦了快节奏的生活，请来南昌吧。坐上</tspan><tspan x="1127" dy="15.02">一叶龙舟在大大小小的石桥下穿梭，听摇橹的</tspan><tspan x="1127" dy="15.02">船夫用吴侬软语咿咿呀呀地哼着江西小调。再</tspan><tspan x="1127" dy="15.02">闭上眼睛，轻轻吸一口温润的空气，呼出的是</tspan><tspan x="1127" dy="15.02">拥有千年历史的古城的安详与自在。</tspan></text></g>
<g id="R7d"><rect class="sh" x="1120.4" y="2268" width="244.1" height="160.4" rx="5"/><rect class="lo" x="1120.4" y="2266.5" width="244.1" height="160.4" rx="5"/><text class="t to" y="2283.2"><tspan x="1127">泊船靠岸。漫步在粉墙黛瓦间，伴随着阵阵的</tspan><tspan x="1127" dy="15.02">茶香，踏进一家茶馆，坐下来，喝上那么一口</tspan><tspan x="1127" dy="15.02">，就感觉回到了曾经的江西—豫章。如果，</tspan><tspan x="1127" dy="15.02">你想犒劳一下饥饿的肚子，可以到绳金塔来走</tspan><tspan x="1127" dy="15.02">一走。在这里，你可以大快朵颐，尽兴地品味</tspan><tspan x="1127" dy="15.02">，尽兴地品尝美味的南昌风味小吃：白糖糕、</tspan><tspan x="1127" dy="15.02">瓦罐煨汤，还有五彩缤纷、姿态各异的糖人等</tspan><tspan x="1127" dy="15.02">等，保准让你饱腹而归，吃了还想来。吃饱后</tspan><tspan x="1127" dy="15.02">，你还可以踏访一下独具江西水乡特色的小店</tspan><tspan x="1127" dy="15.02">里的各式各样的陶瓷。</tspan></text></g>
<g id="R7e"><rect class="sh" x="1120.4" y="2453.6" width="244.1" height="55.3" rx="5"/><rect class="lo" x="1120.4" y="2452.1" width="244.1" height="55.3" rx="5"/><text class="t to" y="2468.8"><tspan x="1127">倘若，你想寻访古代名人，比如江西的陶渊明</tspan><tspan x="1127" dy="15.02">、王安石、汤显祖、文天祥、朱熹等，哪里都</tspan><tspan x="1127" dy="15.02">遍布着他们的足迹。</tspan></text></g>
<g id="R7f"><rect class="sh" x="1120.4" y="2535" width="244.1" height="115.3" rx="5"/><rect class="lo" x="1120.4" y="2533.5" width="244.1" height="115.3" rx="5"/><text class="t to" y="2550.2"><tspan x="1127">要是，你还在为工作抑或学习而烦恼，就来滕</tspan><tspan x="1127" dy="15.02">王阁吧。让里面的历史钟声来抚慰你浮躁的心</tspan><tspan x="1127" dy="15.02">。当然，你也可以来庐山，在庐山上爬一爬，</tspan><tspan x="1127" dy="15.02">舒缓舒缓你的压力，从中你也可以体味一下庐</tspan><tspan x="1127" dy="15.02">山的魅力。闲暇之余，再去三清山，山中有玻</tspan><tspan x="1127" dy="15.02">璃桥、神仙谷里的蹦极，它们肯定能让你流连</tspan><tspan x="1127" dy="15.02">忘返的。</tspan></text></g>
<g id="R7g"><rect class="sh" x="1120.4" y="2675.4" width="244.1" height="55.3" rx="5"/><rect class="lo" x="1120.4" y="2673.9" width="244.1" height="55.3" rx="5"/><text class="t to" y="2690.6"><tspan x="1127">南昌，这个由澄澈太湖孕育的精致小城，汲取</tspan><tspan x="1127" dy="15.02">了天地灵气、吴文风情，滋养了一代又一代淳</tspan><tspan x="1127" dy="15.02">朴、自由的南昌人。</tspan></text></g>
<g id="R7h"><rect class="sh" x="1120.4" y="2756.7" width="244.1" height="55.3" rx="5"/><rect class="lo" x="1120.4" y="2755.2" width="244.1" height="55.3" rx="5"/><text class="t to" y="2771.9"><tspan x="1127">若是有机会，一定要来一次"南昌行"，体验一</tspan><tspan x="1127" dy="15.02">下它留给你的悠悠不尽的古香、古色、古味、</tspan><tspan x="1127" dy="15.02">古调……</tspan></text></g>

<g id="R9a"><rect class="sh" x="1120.4" y="2838" width="244.1" height="85.3" rx="5"/><rect class="lc" x="1120.4" y="2836.5" width="244.1" height="85.3" rx="5"/><text class="t tc" y="2853.2"><tspan x="1127">暑假快过半，我随着我们建议区的妇女儿童活</tspan><tspan x="1127" dy="15.02">动中心"六一儿童合唱团的"老师和同学们一同</tspan><tspan x="1127" dy="15.02">前往江西南昌参加2022年中国少年宫系统《</tspan><tspan x="1127" dy="15.02">芳林杯》文化艺术节。走，跟我一起去看看吧</tspan><tspan x="1127" dy="15.02">。</tspan></text></g>
<g id="R9b"><rect class="sh" x="1120.4" y="2948.3" width="244.1" height="70.3" rx="5"/><rect class="lc" x="1120.4" y="2946.8" width="244.1" height="70.3" rx="5"/><text class="t tc" y="2963.5"><tspan x="1127">来到南昌的第一天，刚下了高铁，哇塞！天好</tspan><tspan x="1127" dy="15.02">热呀！仿佛进了一个大蒸笼，都快把我蒸熟了</tspan><tspan x="1127" dy="15.02">。下午，我们在户外进行合唱排练。虽然天很</tspan><tspan x="1127" dy="15.02">热，蚊子也很多，但同学们都坚持了下来。</tspan></text></g>
<g id="R9c"><rect class="sh" x="1120.4" y="3044.7" width="244.1" height="40.2" rx="5"/><rect class="lc" x="1120.4" y="3043.2" width="244.1" height="40.2" rx="5"/><text class="t tc" y="3059.9"><tspan x="1127">我相信有付出就有回报。晚上我早早的睡下了</tspan><tspan x="1127" dy="15.02">。要养精蓄锐迎接第二天的比赛。</tspan></text></g>
<g id="R9d"><rect class="sh" x="1120.4" y="3111.6" width="244.1" height="325.6" rx="5"/><rect class="lc" x="1120.4" y="3110.1" width="244.1" height="325.6" rx="5"/><text class="t tc" y="3126.8"><tspan x="1127">第二天，这激动人心的时刻终于到来了。一大</tspan><tspan x="1127" dy="15.02">早我们就来到老师房间化妆，紧接着大家下楼</tspan><tspan x="1127" dy="15.02">去吃早饭。饱餐一顿后。我们乘坐大巴前往比</tspan><tspan x="1127" dy="15.02">赛地点。地点位于南昌大学音乐厅。南昌大学</tspan><tspan x="1127" dy="15.02">风景秀丽，拥有一座价值3000万的恢弘的大</tspan><tspan x="1127" dy="15.02">门。趁着比赛未开始，指挥老师先带领我们练</tspan><tspan x="1127" dy="15.02">声，随后我们走入音乐厅内。待我们入座后，</tspan><tspan x="1127" dy="15.02">场内灯光渐渐暗了下来，评委老师一一入座。</tspan><tspan x="1127" dy="15.02">"唰"的一声，聚光灯亮起，主持人身穿靓丽的</tspan><tspan x="1127" dy="15.02">礼服，迈着自信的步伐来到舞台中央。随着时</tspan><tspan x="1127" dy="15.02">间的流逝，不一会儿就轮到我们合唱了。我的</tspan><tspan x="1127" dy="15.02">心也在怦怦直跳。我们上台了聚光灯渐渐亮起</tspan><tspan x="1127" dy="15.02">。钢琴老师弹起了优美的旋律。我们演唱的曲</tspan><tspan x="1127" dy="15.02">目是《梨花又开放》，它描述了在洁白的梨花</tspan><tspan x="1127" dy="15.02">树下纺线的母亲，表达了游子对故乡风土人情</tspan><tspan x="1127" dy="15.02">的怀念和对母亲的思念。唱着唱着，我仿佛看</tspan><tspan x="1127" dy="15.02">到了那如诗如画的景象：洁白的花瓣漫天飞扬</tspan><tspan x="1127" dy="15.02">，隐隐约约的能看见梨树下那位母亲美丽的容</tspan><tspan x="1127" dy="15.02">颜。此刻，我也想到了自己的妈妈。不知不觉</tspan><tspan x="1127" dy="15.02">得我的紧张感早已消失的无影无踪。最终我们</tspan><tspan x="1127" dy="15.02">合唱团以总分第三的好成绩获得了银杯。</tspan></text></g>
<g id="R9d1"><rect class="sh" x="1384" y="3222.4" width="242" height="40.2" rx="5"/><rect class="lc" x="1384" y="3220.9" width="242" height="40.2" rx="5"/><text class="t tc" y="3237.6"><tspan x="1390.5">"梨花又开放的时候，花瓣漫天飞扬，落在妈妈</tspan><tspan x="1390.5" dy="15.02">头上，飘在我脸上……"</tspan></text></g>
<g id="R9d2"><rect class="sh" x="1384" y="3292.9" width="185" height="25.2" rx="5"/><rect class="lc" x="1384" y="3291.4" width="185" height="25.2" rx="5"/><text class="t tc" x="1390.5" y="3308.1">这一刻，我好想我的妈妈。</text></g>

<g id="R11a"><rect class="sh" x="1125" y="3460.6" width="243.4" height="55.3" rx="5"/><rect class="lg" x="1125" y="3459.1" width="243.4" height="55.3" rx="5"/><text class="t tg" y="3475.8"><tspan x="1131.5">今天，又是一个艳阳天，东方的天空早早就挂</tspan><tspan x="1131.5" dy="15.02">起了一个火球似的太阳。我很高兴，因为我是</tspan><tspan x="1131.5" dy="15.02">第一次去南昌，所以心里既高兴又紧张。</tspan></text></g>
<g id="R11b"><rect class="sh" x="1125" y="3542.6" width="243.4" height="273.5" rx="5"/><rect class="lg" x="1125" y="3541.1" width="243.4" height="273.5" rx="5"/><text class="tg" font-size="11.5" letter-spacing="0.05" y="3564.3"><tspan x="1131">在南昌最让我难忘的就是秋水广场晚上的喷泉</tspan><tspan x="1131" dy="23.35">了！不仅是因为观看喷泉的人特多，而且随着</tspan><tspan x="1131" dy="23.35">各种音乐的变化喷泉也在不断地变化，有的时</tspan><tspan x="1131" dy="23.35">候音乐激情万分，喷泉直射云霄，我使劲抬起</tspan><tspan x="1131" dy="23.35">头却看不到水柱的顶端！有的时候音乐缓慢极</tspan><tspan x="1131" dy="23.35">了，水柱也好像要停下来似的，喧闹的水池终</tspan><tspan x="1131" dy="23.35">于平静了许多，我也终于能看清楚喷泉眼滚滚</tspan><tspan x="1131" dy="23.35">流出的水，她就像快要破土而出的小草，又像</tspan><tspan x="1131" dy="23.35">始终在水底滚动而又不愿出水的大鱼。有的时</tspan><tspan x="1131" dy="23.35">候喷泉色彩斑斓，优美至极，真像一个美丽的</tspan><tspan x="1131" dy="23.35">少女在舞台上翩翩起舞，令我陶醉其中。</tspan></text></g>
<g id="R11c"><rect class="sh" x="1125" y="3855.5" width="243.4" height="64.3" rx="5"/><rect class="lg" x="1125" y="3854" width="243.4" height="64.3" rx="5"/><text class="tg" font-size="11.5" letter-spacing="0.05" y="3878.5"><tspan x="1131">南昌虽然闷热极了，但是我还是很开心，因为</tspan><tspan x="1131" dy="23">我领略到了秋水广场无限魅力的喷泉！</tspan></text></g>
</svg>
